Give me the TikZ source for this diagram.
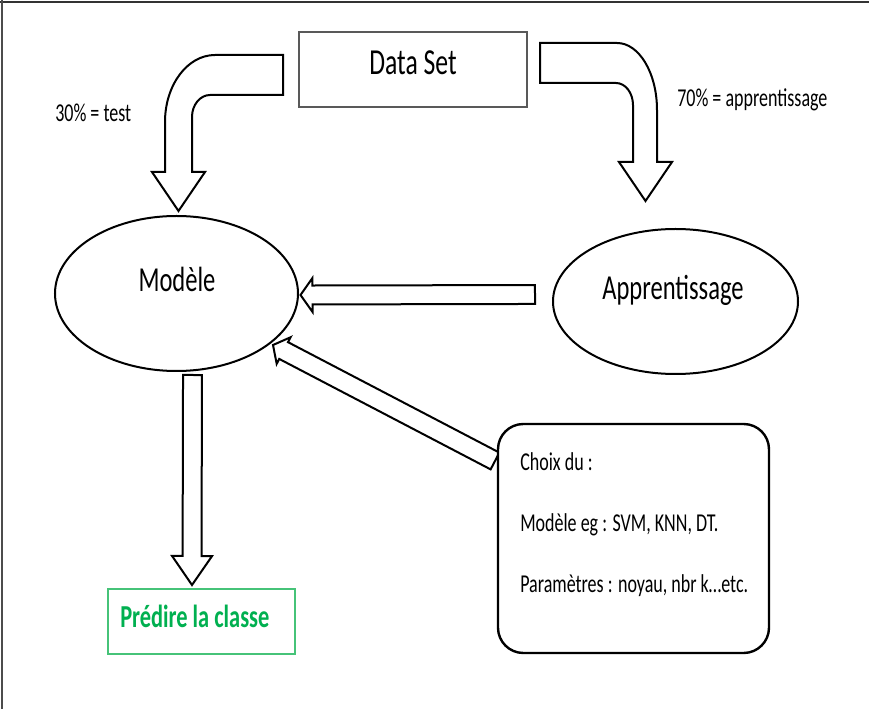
\documentclass[tikz,border=0pt]{standalone}
\usepackage{fontspec}
\setmainfont{Carlito}[FakeStretch=0.7]
\usetikzlibrary{shapes.geometric,calc}
\definecolor{grn}{RGB}{0,176,80}
\definecolor{grnb}{RGB}{70,195,120}
\newcommand\hollowarrow[5]{%
  \coordinate (ha-b) at ($(#2)!#5!(#1)$);
  \draw[arrowline] ($(#1)!#3!90:(#2)$) -- ($(ha-b)!#3!-90:(#1)$) -- ($(ha-b)!#4!-90:(#1)$) -- (#2)
     -- ($(ha-b)!#4!90:(#1)$) -- ($(ha-b)!#3!90:(#1)$) -- ($(#1)!#3!-90:(#2)$) -- cycle;
}
\begin{document}
\begin{tikzpicture}[x=0.75pt,y=-0.75pt,
  arrowline/.style={draw=black,line width=1.5pt,fill=white,line join=miter},
  bigtxt/.style={font=\fontsize{26.3}{30}\selectfont,inner sep=0pt},
  smalltxt/.style={font=\fontsize{19.3}{23}\selectfont,inner sep=0pt},
  ell/.style={ellipse,draw=black,line width=1.5pt,inner sep=0pt}]
\useasboundingbox (0,0) rectangle (869,709);
\fill[white] (0,0) rectangle (869,709);
% frame
\draw[line width=1.5pt,black!80] (0,2) -- (869,2);
\draw[line width=1pt,black!70] (2,0) -- (2,709);
% nodes
\node[draw=black!65,line width=1pt,minimum width=228*0.75pt,minimum height=75*0.75pt,inner sep=0pt] (data) at (413,69.5) {};
\node[bigtxt,font=\fontsize{27.5}{31}\selectfont,anchor=base] (dataT) at (413,75) {Data Set};
\node[ell,minimum width=243*0.75pt,minimum height=155*0.75pt] (modele) at (176.5,293.5) {};
\node[bigtxt,anchor=base] (modeleT) at (177,292) {Modèle};
\node[ell,minimum width=245*0.75pt,minimum height=145*0.75pt] (appr) at (675.5,301.5) {};
\node[bigtxt,anchor=base] (apprT) at (673,300) {Apprentissage};
\node[smalltxt,anchor=base west] (l30) at (55,122) {30\% = test};
\node[smalltxt,anchor=base west] (l70) at (677,107) {70\% = apprentissage};
% connectors
\coordinate (h-tail) at ($(appr.west)+(-17,-7)$);
\coordinate (h-tip) at ($(modele.east)+(1.5,1.5)$);
\hollowarrow{h-tail}{h-tip}{7.1pt}{12.75pt}{9pt}
\coordinate (v-tail) at ($(modele.south)+(16,3)$);
\coordinate (v-tip) at (192,585);
\hollowarrow{v-tail}{v-tip}{7.1pt}{15pt}{21.75pt}
\coordinate (d-tail) at (495,461);
\coordinate (d-tip) at (273,345);
\hollowarrow{d-tail}{d-tip}{7.1pt}{11.25pt}{9pt}
% bent arrow left (Data Set -> Modele)
\draw[arrowline] (283,55) -- (215,55) .. controls (187.4,55) and (165,85) .. (165,122)
  -- (165,172) -- (152,172) -- (178.5,211) -- (205,172) -- (192,172) -- (192,117)
  .. controls (192,104.9) and (200.1,95) .. (210,95) -- (283,95) -- cycle;
% bent arrow right (Data Set -> Apprentissage)
\draw[arrowline] (540,43) -- (617,43) .. controls (639.1,43) and (657,73) .. (657,110)
  -- (657,162) -- (672,162) -- (645.5,201) -- (619,162) -- (633,162) -- (633,105)
  .. controls (633,92.9) and (625.4,83) .. (616,83) -- (540,83) -- cycle;
% choix box
\node[draw=black,line width=1.8pt,fill=white,rounded corners=19pt,minimum width=271*0.75pt,minimum height=229*0.75pt,inner sep=0pt] (choix) at (633.5,538.5) {};
\node[smalltxt,anchor=base west] (c1) at (520,471) {Choix du :};
\node[smalltxt,anchor=base west] (c2) at (520,532) {Modèle eg : SVM, KNN, DT.};
\node[smalltxt,anchor=base west] (c3) at (520,593) {Paramètres : noyau, nbr k…etc.};
% predire
\node[draw=grnb,line width=1pt,minimum width=187*0.75pt,minimum height=65*0.75pt,inner sep=0pt] (predire) at (201.5,621.5) {};
\node[font=\fontsize{24}{28}\selectfont\bfseries,text=grn,inner sep=0pt,anchor=base west] (predireT) at (120,628) {Prédire la classe};
\end{tikzpicture}
\end{document}
